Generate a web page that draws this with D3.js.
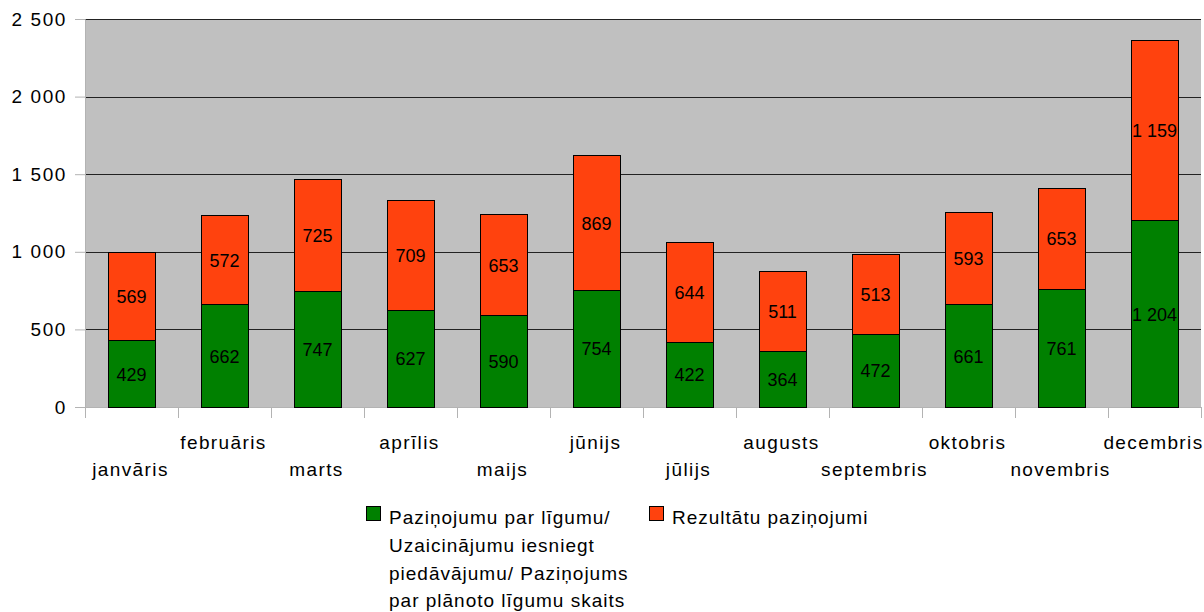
<!DOCTYPE html>
<html>
<head>
<meta charset="utf-8">
<script src="https://cdn.jsdelivr.net/npm/d3@7"></script>
<style>
	body { margin: 0; background: #fff; }
	text { font-family: "Liberation Sans", Arial, sans-serif; fill: #000; }
</style>
</head>
<body>
<svg id="chart" width="1204" height="612"></svg>
<script>
var months = ["janvāris", "februāris", "marts", "aprīlis", "maijs", "jūnijs",
	"jūlijs", "augusts", "septembris", "oktobris", "novembris", "decembris"];
var notices = [429, 662, 747, 627, 590, 754, 422, 364, 472, 661, 761, 1204];
var results = [569, 572, 725, 709, 653, 869, 644, 511, 513, 593, 653, 1159];
var yTicks = [0, 500, 1000, 1500, 2000, 2500];
var seriesLines = [
	["Paziņojumu par līgumu/", "Uzaicinājumu iesniegt", "piedāvājumu/ Paziņojums", "par plānoto līgumu skaits"],
	["Rezultātu paziņojumi"]];
var colors = ["#008000", "#ff420e"];

var fmt = function(v) { return d3.format(",")(v).replace(/,/g, " "); };

var svg = d3.select("#chart");
var pLeft = 85, pRight = 1201, pTop = 19, pBottom = 407;
var fs = 19;

var x = d3.scaleBand().domain(months).range([pLeft, pRight]).paddingInner(0).paddingOuter(0);
var y = d3.scaleLinear().domain([0, 2500]).range([pBottom, pTop]);
var barW = x.bandwidth() * 0.505;

// plot background
svg.append("rect")
	.attr("x", pLeft).attr("y", pTop)
	.attr("width", pRight - pLeft).attr("height", pBottom - pTop)
	.attr("fill", "#c0c0c0");

// grid
svg.append("g").selectAll("line")
	.data(yTicks.filter(function(d) { return d > 0; }))
	.enter().append("line")
	.attr("x1", pLeft).attr("x2", pRight)
	.attr("y1", function(d) { return Math.round(y(d)) + 0.5; })
	.attr("y2", function(d) { return Math.round(y(d)) + 0.5; })
	.attr("stroke", "#222").attr("stroke-width", 1);

// y axis
var yAxis = svg.append("g")
	.attr("transform", "translate(" + pLeft + ",0)")
	.call(d3.axisLeft(y).tickValues(yTicks).tickSize(10).tickPadding(8).tickFormat(fmt));
yAxis.select(".domain").attr("stroke", "#b3b3b3");
yAxis.selectAll(".tick line").attr("stroke", "#b3b3b3");
yAxis.selectAll(".tick text").attr("font-size", fs)
	.attr("font-family", "Liberation Sans, Arial, sans-serif").attr("fill", "#000")
	.style("letter-spacing", "1.6px");

// x axis: ticks at band boundaries
var bounds = months.map(function(m) { return x(m); }).concat([pRight]);
svg.append("line")
	.attr("x1", pLeft).attr("x2", pRight)
	.attr("y1", pBottom + 0.5).attr("y2", pBottom + 0.5)
	.attr("stroke", "#b3b3b3");
svg.append("g").selectAll("line")
	.data(bounds)
	.enter().append("line")
	.attr("x1", function(d) { return Math.round(d) + 0.5; })
	.attr("x2", function(d) { return Math.round(d) + 0.5; })
	.attr("y1", pBottom).attr("y2", pBottom + 11)
	.attr("stroke", "#b3b3b3");

svg.append("g").selectAll("text")
	.data(months)
	.enter().append("text")
	.attr("x", function(d) { return x(d) + x.bandwidth() / 2 - 1; })
	.attr("y", function(d, i) { return i % 2 == 0 ? 476 : 449; })
	.attr("text-anchor", "middle")
	.attr("font-size", fs)
	.style("letter-spacing", "1.4px")
	.text(function(d) { return d; });

// stacked bars
var rows = months.map(function(m, i) { return { month: m, a: notices[i], b: results[i] }; });
var stacked = d3.stack().keys(["a", "b"])(rows);

var layers = svg.append("g").selectAll("g")
	.data(stacked)
	.enter().append("g")
	.attr("fill", function(d, i) { return colors[i]; });

layers.selectAll("rect")
	.data(function(d) { return d; })
	.enter().append("rect")
	.attr("x", function(d) { return Math.round(x(d.data.month) + (x.bandwidth() - barW) / 2) + 0.5; })
	.attr("width", Math.round(barW))
	.attr("y", function(d) { return Math.round(y(d[1])) + 0.5; })
	.attr("height", function(d) { return Math.round(y(d[0])) - Math.round(y(d[1])); })
	.attr("stroke", "#000").attr("stroke-width", 1);

layers.selectAll("text")
	.data(function(d) { return d; })
	.enter().append("text")
	.attr("x", function(d) { return x(d.data.month) + x.bandwidth() / 2; })
	.attr("y", function(d) { return (y(d[0]) + y(d[1])) / 2 + 7; })
	.attr("text-anchor", "middle")
	.attr("font-size", 18)
	.style("fill", "#000")
	.text(function(d) { return fmt(d[1] - d[0]); });

// legend
var legendX = [366, 649];
var legend = svg.append("g").selectAll("g")
	.data(seriesLines)
	.enter().append("g")
	.attr("transform", function(d, i) { return "translate(" + legendX[i] + ",506)"; });
legend.append("rect")
	.attr("x", 0.5).attr("y", 0.5)
	.attr("width", 14).attr("height", 14)
	.attr("fill", function(d, i) { return colors[i]; })
	.attr("stroke", "#000");
legend.append("text")
	.attr("font-size", fs)
	.style("letter-spacing", "1px")
	.selectAll("tspan")
	.data(function(d) { return d; })
	.enter().append("tspan")
	.attr("x", function(d, i, n) { return 23; })
	.attr("y", function(d, i) { return 18 + i * 27.8; })
	.text(function(d) { return d; });
</script>
</body>
</html>
